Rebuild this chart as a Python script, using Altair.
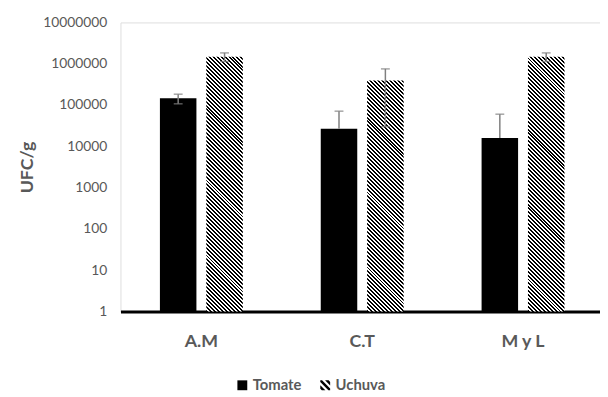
import math
import altair as alt
import pandas as pd

# ---------------- data ----------------
categories = ["A.M", "C.T", "M y L"]
series = ["Tomate", "Uchuva"]
tomate = [145000, 26500, 16000]
tomate_err = [38000, 44500, 44000]
uchuva = [1480000, 390000, 1480000]
uchuva_err = [350000, 360000, 350000]
y_ticks = [1, 10, 100, 1000, 10000, 100000, 1000000, 10000000]

# ---------------- layout / style ----------------
PW, PH = 486, 293
PAD = {"left": 114, "top": 12, "right": 0, "bottom": 84}
P_IN, P_OUT, ALIGN = 0.4847, 0.2331, 0.526
PO_IN = 0.213
TXT = "#595959"
FONT = "Lato"

rows = []
for i, c in enumerate(categories):
    rows.append(dict(cat=c, serie="Tomate", value=tomate[i], err=tomate_err[i]))
    rows.append(dict(cat=c, serie="Uchuva", value=uchuva[i], err=uchuva_err[i]))
df = pd.DataFrame(rows)
df["base"] = 1
df["upper"] = df["value"] + df["err"]
low = df["value"] - df["err"]
df["lower"] = low.where(low > 0, df["value"])

caps = []
for _, r in df.iterrows():
    caps.append(dict(cat=r["cat"], serie=r["serie"], y=r["upper"]))
    if r["value"] - r["err"] > 0:
        caps.append(dict(cat=r["cat"], serie=r["serie"], y=r["value"] - r["err"]))
df_caps = pd.DataFrame(caps)

x_scale = alt.Scale(domain=categories, paddingInner=P_IN, paddingOuter=P_OUT, align=ALIGN)
xo_scale = alt.Scale(domain=series, paddingInner=PO_IN, paddingOuter=0)
y_scale = alt.Scale(type="log", domain=[1, 1e7], nice=False)

X = alt.X("cat:N", scale=x_scale, sort=categories,
          axis=alt.Axis(title=None, ticks=False, domainColor="black", domainWidth=3,
                        labelFont=FONT, labelFontSize=18, labelFontWeight="bold",
                        labelColor=TXT, labelPadding=21, labelAngle=0, grid=False))
XO = alt.XOffset("serie:N", scale=xo_scale, sort=series)
Y_AXIS = alt.Axis(values=y_ticks, format="d", grid=False, domain=False, ticks=False,
                  labelFont=FONT, labelFontSize=14, labelColor=TXT, labelPadding=14,
                  title="UFC/g", titleFont=FONT, titleFontSize=18, titleFontWeight="bold",
                  titleColor=TXT, titleAngle=270, titleX=-89, titleY=PH / 2,
                  titleAlign="center", titleBaseline="alphabetic")

# bar geometry (for the hatch gradient orientation)
step = PW / (3 - P_IN + 2 * P_OUT)
bw = step * (1 - P_IN)
bar_w = bw / (2 - PO_IN) * (1 - PO_IN)


def hatch(w, h, period=4.0, duty=0.5):
    k = (w + h) / (w * w + h * h)
    n = (w + h) / period
    stops = []
    i = 0
    while i / n < 1:
        a, b, c = i / n, min((i + duty) / n, 1), min((i + 1) / n, 1)
        stops += [(a, "black"), (b, "black"), (b, "white"), (c, "white")]
        i += 1
    return alt.LinearGradient(gradient="linear", x1=0, y1=1, x2=k * w, y2=1 - k * h,
                              stops=[alt.GradientStop(offset=o, color=col) for o, col in stops])


base = alt.Chart(df)
Yv = alt.Y("value:Q", scale=y_scale, axis=Y_AXIS)

tom_bars = base.transform_filter(alt.datum.serie == "Tomate").mark_bar(color="black").encode(
    x=X, xOffset=XO, y=Yv, y2="base:Q")

uch_layers = []
for i, c in enumerate(categories):
    h = PH * math.log10(uchuva[i]) / 7
    uch_layers.append(
        base.transform_filter((alt.datum.serie == "Uchuva") & (alt.datum.cat == c))
        .mark_bar(color=hatch(bar_w, h))
        .encode(x=X, xOffset=XO, y=Yv, y2="base:Q")
    )

err_rule = base.mark_rule(color="#7f7f7f", strokeWidth=1.5).encode(
    x=X, xOffset=XO, y=alt.Y("lower:Q", scale=y_scale, axis=Y_AXIS), y2="upper:Q")

err_caps = alt.Chart(df_caps).mark_tick(color="#7f7f7f", size=9, thickness=1.5).encode(
    x=X, xOffset=XO, y=alt.Y("y:Q", scale=y_scale, axis=Y_AXIS))


# legend symbols: solid square and hatched square (custom paths in [-1,1])
def clip(poly, f):
    out = []
    for j in range(len(poly)):
        p, q = poly[j], poly[(j + 1) % len(poly)]
        fp, fq = f(p), f(q)
        if fp >= 0:
            out.append(p)
        if (fp >= 0) != (fq >= 0):
            t = fp / (fp - fq)
            out.append((p[0] + t * (q[0] - p[0]), p[1] + t * (q[1] - p[1])))
    return out


sq = [(-1, -1), (1, -1), (1, 1), (-1, 1)]
parts = []
for cc in (-1.33, 0.0, 1.33):
    a, b = cc - 0.36, cc + 0.36
    poly = clip(sq, lambda p: (p[0] - p[1]) - a)
    poly = clip(poly, lambda p: b - (p[0] - p[1]))
    if len(poly) >= 3:
        parts.append("M" + "L".join(f"{x:.3f},{y:.3f}" for x, y in poly) + "Z")
hatch_path = "".join(parts)
square_path = "M-1,-1L1,-1L1,1L-1,1Z"

legend_pts = base.mark_point(filled=True, opacity=0, color="black").encode(
    x=X, xOffset=XO, y=Yv,
    shape=alt.Shape("serie:N", scale=alt.Scale(domain=series, range=[square_path, hatch_path]),
                    legend=alt.Legend(title=None, orient="none", direction="horizontal",
                                      legendX=116, legendY=360, symbolSize=100,
                                      symbolOpacity=1, symbolFillColor="black",
                                      symbolStrokeWidth=0, labelFont=FONT, labelFontSize=15,
                                      labelFontWeight="bold", labelColor=TXT, labelOffset=3,
                                      columnPadding=16)))

chart = alt.layer(tom_bars, *uch_layers, err_rule, err_caps, legend_pts).properties(
    width=PW, height=PH, autosize=alt.AutoSizeParams(type="none"), padding=PAD
).configure_view(stroke=None).configure(background="white")

chart.save("out.html", embed_options={"renderer": "svg", "actions": False})
